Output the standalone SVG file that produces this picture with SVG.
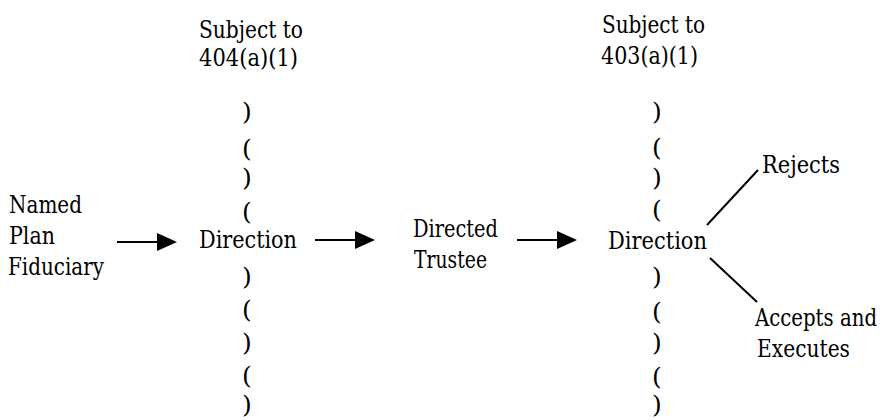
<svg xmlns="http://www.w3.org/2000/svg" width="885" height="420" viewBox="0 0 885 420">
<style>
text{font-family:"DejaVu Serif",serif;font-size:24px;fill:#000}
.p{text-anchor:middle;font-size:25px}
.ln{stroke:#000;stroke-width:2;fill:none}
.ah{fill:#000;stroke:none}
</style>
<defs>
<g id="arrow"><line class="ln" x1="0" y1="0" x2="42" y2="0"/><polygon class="ah" points="40,-9 60,0 40,9"/></g>
</defs>
<rect width="885" height="420" fill="#fff"/>
<g id="named-plan-fiduciary">
<text x="9" y="213" textLength="73" lengthAdjust="spacingAndGlyphs">Named</text>
<text x="9" y="244" textLength="46" lengthAdjust="spacingAndGlyphs">Plan</text>
<text x="8" y="275" textLength="96" lengthAdjust="spacingAndGlyphs">Fiduciary</text>
</g>
<g id="direction-1">
<text x="199" y="38" textLength="104" lengthAdjust="spacingAndGlyphs">Subject to</text>
<text x="199" y="66" textLength="99" lengthAdjust="spacingAndGlyphs">404(a)(1)</text>
<text class="p" x="247" y="120">)</text>
<text class="p" x="247" y="157">(</text>
<text class="p" x="247" y="186">)</text>
<text class="p" x="247" y="220">(</text>
<text x="199" y="248" textLength="98" lengthAdjust="spacingAndGlyphs">Direction</text>
<text class="p" x="247" y="285">)</text>
<text class="p" x="247" y="318">(</text>
<text class="p" x="247" y="351">)</text>
<text class="p" x="247" y="384">(</text>
<text class="p" x="247" y="413">)</text>
</g>
<g id="directed-trustee">
<text x="413" y="237" textLength="85" lengthAdjust="spacingAndGlyphs">Directed</text>
<text x="414" y="268" textLength="73" lengthAdjust="spacingAndGlyphs">Trustee</text>
</g>
<g id="direction-2">
<text x="602" y="33" textLength="103" lengthAdjust="spacingAndGlyphs">Subject to</text>
<text x="601" y="64" textLength="97" lengthAdjust="spacingAndGlyphs">403(a)(1)</text>
<text class="p" x="657" y="120">)</text>
<text class="p" x="657" y="156">(</text>
<text class="p" x="657" y="186">)</text>
<text class="p" x="657" y="218">(</text>
<text x="608" y="249" textLength="99" lengthAdjust="spacingAndGlyphs">Direction</text>
<text class="p" x="657" y="285">)</text>
<text class="p" x="657" y="320">(</text>
<text class="p" x="657" y="351">)</text>
<text class="p" x="657" y="385">(</text>
<text class="p" x="657" y="413">)</text>
</g>
<g id="rejects">
<text x="762" y="173" textLength="78" lengthAdjust="spacingAndGlyphs">Rejects</text>
</g>
<g id="accepts-executes">
<text x="755" y="326" font-size="20" textLength="122" lengthAdjust="spacingAndGlyphs">Accepts and</text>
<text x="757" y="357" textLength="93" lengthAdjust="spacingAndGlyphs">Executes</text>
</g>
<g id="connectors">
<use href="#arrow" x="117" y="242"/>
<use href="#arrow" x="315" y="240"/>
<use href="#arrow" x="517" y="240"/>
<line class="ln" x1="707" y1="225" x2="758" y2="170" stroke-width="1.8"/>
<line class="ln" x1="710" y1="258" x2="757" y2="302" stroke-width="1.8"/>
</g>
</svg>
